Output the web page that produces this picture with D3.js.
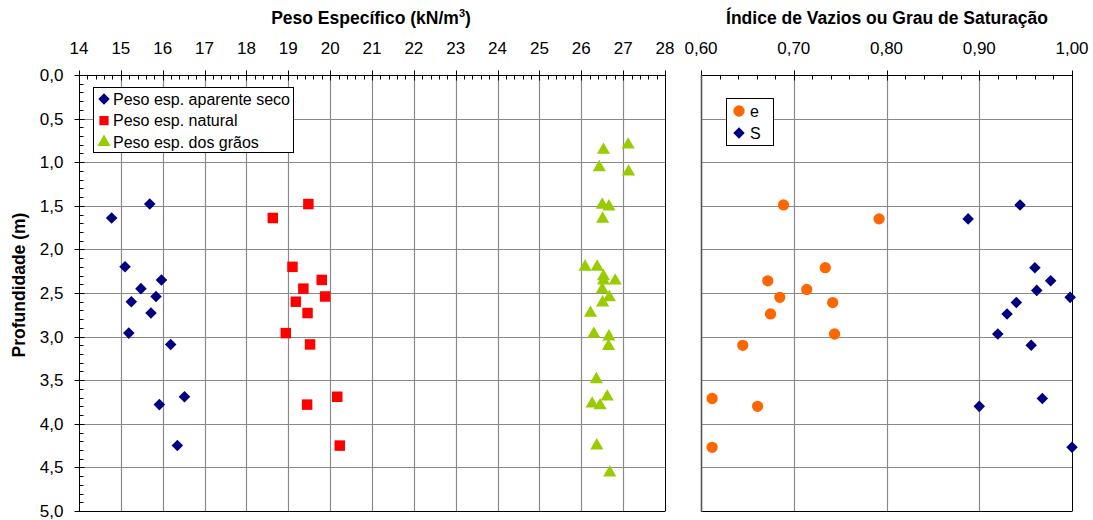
<!DOCTYPE html>
<html>
<head>
<meta charset="utf-8">
<script src="https://cdn.jsdelivr.net/npm/d3@7"></script>
<style>
  html, body { margin: 0; padding: 0; background: #fff; }
  svg { display: block; font-family: "Liberation Sans", Arial, sans-serif; }
</style>
</head>
<body>
<svg id="chart" width="1093" height="520"></svg>
<script>
// Depths (m) of each sample
const depthDry = [1.48, 1.64, 2.20, 2.35, 2.45, 2.54, 2.60, 2.73, 2.96, 3.09, 3.69, 3.78, 4.25];
// Peso esp. aparente seco (kN/m3)
const gammaDry = [15.69, 14.78, 15.10, 15.97, 15.48, 15.84, 15.25, 15.72, 15.19, 16.19, 16.52, 15.92, 16.35];
// Peso esp. natural (kN/m3)
const gammaNat = [19.48, 18.63, 19.10, 19.80, 19.36, 19.88, 19.18, 19.46, 18.94, 19.52, 20.17, 19.45, 20.23];

// Peso esp. dos grãos (kN/m3) and its depths
const depthGrain = [0.80, 0.86, 1.06, 1.11, 1.49, 1.51, 1.65, 2.20, 2.20, 2.31, 2.36, 2.36, 2.46, 2.55, 2.61, 2.73, 2.97, 3.00, 3.11, 3.49, 3.69, 3.77, 3.79, 4.25, 4.56];
const gammaGrain = [27.12, 26.53, 26.43, 27.13, 26.50, 26.66, 26.51, 26.09, 26.38, 26.53, 26.53, 26.81, 26.50, 26.67, 26.51, 26.22, 26.30, 26.66, 26.65, 26.36, 26.62, 26.26, 26.45, 26.37, 26.68];

// Índice de vazios (e) and grau de saturação (S)
const depthIdx = [1.49, 1.65, 2.21, 2.36, 2.46, 2.55, 2.61, 2.74, 2.97, 3.10, 3.71, 3.80, 4.27];
const voidRatio = [0.689, 0.792, 0.734, 0.672, 0.714, 0.685, 0.742, 0.675, 0.744, 0.645, 0.612, 0.661, 0.612];
const depthSat = [1.49, 1.65, 2.21, 2.36, 2.47, 2.55, 2.61, 2.74, 2.97, 3.10, 3.71, 3.80, 4.27];
const saturation = [0.944, 0.888, 0.960, 0.977, 0.962, 0.998, 0.940, 0.930, 0.920, 0.956, 0.968, 0.900, 1.000];

// Axis ticks
const weightTicks = d3.range(14, 29, 1);
const indexTicks = [0.60, 0.70, 0.80, 0.90, 1.00];
const depthTicks = d3.range(0, 5.01, 0.5);

const titleLeft = "Peso Específico (kN/m";
const titleRight = "Índice de Vazios ou Grau de Saturação";
const titleY = "Profundidade (m)";
const legendLeft = ["Peso esp. aparente seco", "Peso esp. natural", "Peso esp. dos grãos"];
const legendRight = ["e", "S"];

const colDry = "#000080", colNat = "#FF0000", colGrain = "#99CC00", colE = "#FF6600", colS = "#000080";

const ptBR = d3.formatLocale({decimal: ",", thousands: ".", grouping: [3], currency: ["R$", ""]});
const fmt1 = ptBR.format(".1f");
const fmt2 = ptBR.format(".2f");

const svg = d3.select("#chart");

const plotTop = 75, plotBottom = 511;
const xL = d3.scaleLinear().domain([14, 28]).range([79, 665]);
const xR = d3.scaleLinear().domain([0.60, 1.00]).range([701, 1072]);
const y = d3.scaleLinear().domain([0, 5]).range([plotTop, plotBottom]);

const gridCol = "#8a8a8a";
const tickFont = 17, titleFont = 17.5, legendFont = 16;

// ---------- gridlines ----------
function grid(xs, xTicks) {
  const g = svg.append("g");
  g.selectAll(".v").data(xTicks.slice(1, -1)).join("line")
    .attr("x1", d => Math.round(xs(d)) + 0.5).attr("x2", d => Math.round(xs(d)) + 0.5)
    .attr("y1", plotTop).attr("y2", plotBottom)
    .attr("stroke", gridCol).attr("stroke-width", 1.2);
  g.selectAll(".h").data(depthTicks.slice(1, -1)).join("line")
    .attr("x1", xs.range()[0]).attr("x2", xs.range()[1])
    .attr("y1", d => Math.round(y(d)) + 0.5).attr("y2", d => Math.round(y(d)) + 0.5)
    .attr("stroke", gridCol).attr("stroke-width", 1.2);
  // frame: right and bottom
  g.append("line").attr("x1", xs.range()[1] + 0.5).attr("x2", xs.range()[1] + 0.5)
    .attr("y1", plotTop).attr("y2", plotBottom).attr("stroke", "#000");
  g.append("line").attr("x1", xs.range()[0]).attr("x2", xs.range()[1] + 0.5)
    .attr("y1", plotBottom + 0.5).attr("y2", plotBottom + 0.5).attr("stroke", "#000");
}
grid(xL, weightTicks);
grid(xR, indexTicks);

// ---------- top axes ----------
function topAxis(xs, ticks, minorStep, format) {
  const g = svg.append("g").attr("transform", `translate(0,${plotTop + 0.5})`);
  const [d0, d1] = xs.domain();
  const minor = d3.range(d0, d1 + 1e-9, minorStep).filter(v => !ticks.some(t => Math.abs(t - v) < 1e-9));
  g.selectAll(".mi").data(minor).join("line")
    .attr("x1", d => Math.round(xs(d)) + 0.5).attr("x2", d => Math.round(xs(d)) + 0.5)
    .attr("y1", 0).attr("y2", 4).attr("stroke", "#000");
  g.selectAll(".ma").data(ticks).join("line")
    .attr("x1", d => Math.round(xs(d)) + 0.5).attr("x2", d => Math.round(xs(d)) + 0.5)
    .attr("y1", -5).attr("y2", 5).attr("stroke", "#000");
  g.append("line").attr("x1", xs.range()[0]).attr("x2", xs.range()[1] + 1)
    .attr("y1", 0).attr("y2", 0).attr("stroke", "#000");
  g.selectAll("text").data(ticks).join("text")
    .attr("x", d => xs(d)).attr("y", -22)
    .attr("text-anchor", "middle").attr("font-size", tickFont).attr("fill", "#000")
    .text(format);
}
topAxis(xL, weightTicks, 0.2, d => d);
topAxis(xR, indexTicks, 0.02, fmt2);

// ---------- left depth axis ----------
const ya = svg.append("g").attr("transform", `translate(${xL.range()[0] + 0.5},0)`);
const minorDepth = d3.range(0, 5.001, 0.1).filter(v => Math.abs(v * 2 - Math.round(v * 2)) > 1e-6);
ya.selectAll(".mi").data(minorDepth).join("line")
  .attr("x1", 0).attr("x2", 4)
  .attr("y1", d => Math.round(y(d)) + 0.5).attr("y2", d => Math.round(y(d)) + 0.5).attr("stroke", "#000");
ya.selectAll(".ma").data(depthTicks).join("line")
  .attr("x1", -5).attr("x2", 5)
  .attr("y1", d => Math.round(y(d)) + 0.5).attr("y2", d => Math.round(y(d)) + 0.5).attr("stroke", "#000");
ya.append("line").attr("x1", 0).attr("x2", 0).attr("y1", plotTop).attr("y2", plotBottom + 1).attr("stroke", "#000");
ya.selectAll("text").data(depthTicks).join("text")
  .attr("x", -16).attr("y", d => y(d)).attr("dy", "0.35em")
  .attr("text-anchor", "end").attr("font-size", tickFont).attr("fill", "#000")
  .text(fmt1);

// right panel left border
svg.append("line").attr("x1", xR.range()[0] + 0.5).attr("x2", xR.range()[0] + 0.5)
  .attr("y1", plotTop).attr("y2", plotBottom + 1).attr("stroke", "#555").attr("stroke-width", 1.6);

// ---------- titles ----------
const tl = svg.append("text").attr("x", 371).attr("y", 24)
  .attr("text-anchor", "middle").attr("font-size", titleFont).attr("font-weight", "bold");
tl.append("tspan").text(titleLeft);
tl.append("tspan").attr("dy", -7).attr("font-size", 11).text("3");
tl.append("tspan").attr("dy", 7).text(")");

svg.append("text").attr("x", 887).attr("y", 24)
  .attr("text-anchor", "middle").attr("font-size", titleFont).attr("font-weight", "bold")
  .text(titleRight);

svg.append("text").attr("transform", "translate(25,285) rotate(-90)")
  .attr("text-anchor", "middle").attr("font-size", titleFont).attr("font-weight", "bold")
  .text(titleY);

// ---------- markers ----------
const diamond = d3.symbol().type(d3.symbolDiamond2).size(85);
const square = d3.symbol().type(d3.symbolSquare).size(110);
const triangle = d3.symbol().type(d3.symbolTriangle).size(75);
const circle = d3.symbol().type(d3.symbolCircle).size(100);

function series(xs, xv, yv, sym, color) {
  svg.append("g").selectAll("path").data(d3.zip(xv, yv)).join("path")
    .attr("transform", d => `translate(${xs(d[0])},${y(d[1])})`)
    .attr("d", sym).attr("fill", color);
}
series(xL, gammaDry, depthDry, diamond, colDry);
series(xL, gammaNat, depthDry, square, colNat);
series(xL, gammaGrain, depthGrain, triangle, colGrain);
series(xR, voidRatio, depthIdx, circle, colE);
series(xR, saturation, depthSat, diamond, colS);

// ---------- legends ----------
const lg = svg.append("g");
lg.append("rect").attr("x", 93.5).attr("y", 87.5).attr("width", 200).attr("height", 65)
  .attr("fill", "#fff").attr("stroke", "#000");
const leftSyms = [[diamond, colDry], [square, colNat], [triangle, colGrain]];
legendLeft.forEach((t, i) => {
  const cy = 99 + i * 21.6;
  lg.append("path").attr("transform", `translate(104,${cy})`)
    .attr("d", i === 1 ? d3.symbol().type(d3.symbolSquare).size(85) : leftSyms[i][0])
    .attr("fill", leftSyms[i][1]);
  lg.append("text").attr("x", 113).attr("y", cy).attr("dy", "0.35em")
    .attr("font-size", legendFont).text(t);
});

const rg = svg.append("g");
rg.append("rect").attr("x", 726.5).attr("y", 98.5).attr("width", 47).attr("height", 47)
  .attr("fill", "#fff").attr("stroke", "#000");
const rightSyms = [[circle, colE], [diamond, colS]];
legendRight.forEach((t, i) => {
  const cy = 111 + i * 22;
  rg.append("path").attr("transform", `translate(739,${cy})`)
    .attr("d", rightSyms[i][0]).attr("fill", rightSyms[i][1]);
  rg.append("text").attr("x", 750).attr("y", cy).attr("dy", "0.35em")
    .attr("font-size", legendFont).text(t);
});
</script>
</body>
</html>
